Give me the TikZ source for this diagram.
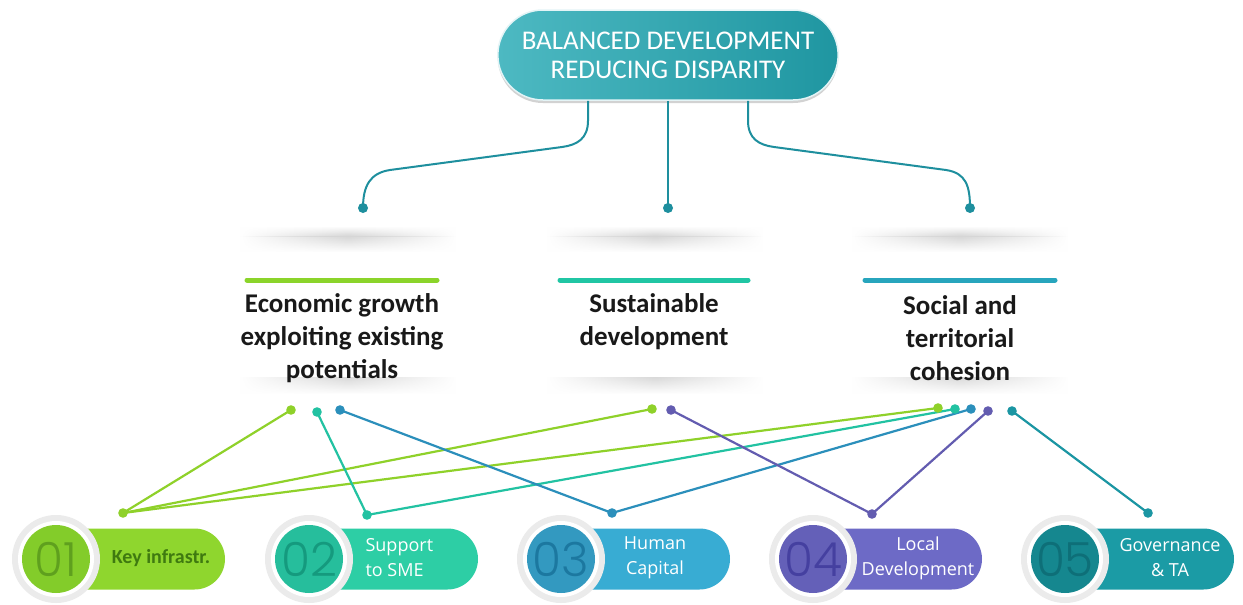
\documentclass[tikz,border=0pt]{standalone}
\usepackage{fontspec}
\setmainfont{Carlito}
\newfontfamily\pillfont{Open Sans}
\newfontfamily\numfont{Poppins Light}
\usetikzlibrary{shapes.misc,fadings,shadows}

% palette
\definecolor{topL}{HTML}{4DB9C2}
\definecolor{topR}{HTML}{1F96A1}
\definecolor{topline}{HTML}{1E8F9E}
\definecolor{barG}{HTML}{8BD42A}
\definecolor{barT}{HTML}{20C6A4}
\definecolor{barB}{HTML}{27A5BD}
\definecolor{lnG}{HTML}{8FD12A}
\definecolor{lnT}{HTML}{22C2A2}
\definecolor{lnB}{HTML}{2B8FBB}
\definecolor{lnP}{HTML}{635CB0}
\definecolor{lnC}{HTML}{1B96A3}
\definecolor{pA}{HTML}{8FD62E}
\definecolor{pB}{HTML}{2DCEA5}
\definecolor{pC}{HTML}{38ACD3}
\definecolor{pD}{HTML}{6D6AC6}
\definecolor{pE}{HTML}{1B9BA5}
\definecolor{cA}{HTML}{83CC2A}
\definecolor{cB}{HTML}{26BE9C}
\definecolor{cC}{HTML}{3399C0}
\definecolor{cD}{HTML}{6460B8}
\definecolor{cE}{HTML}{15878F}
\definecolor{nA}{HTML}{5FA01E}
\definecolor{nB}{HTML}{159A7E}
\definecolor{nC}{HTML}{1C78A0}
\definecolor{nD}{HTML}{4540A0}
\definecolor{nE}{HTML}{0E6F78}
\definecolor{keytext}{HTML}{3F7A10}

\tikzfading[name=hfade, left color=transparent!100, right color=transparent!100, middle color=transparent!0]

\begin{document}
\begin{tikzpicture}[x=1pt,y=-1pt,
  conn/.style={draw=topline, line width=2pt},
  link/.style={draw=#1, line width=2.2pt},
  bar/.style={line width=5pt, line cap=round},
  heading/.style={font=\bfseries\fontsize{27}{33}\selectfont, align=center, text=black!90},
  pilltext/.style={font=\pillfont\fontsize{18}{25}\selectfont, text=white, align=center},
  pill/.style={rounded rectangle, fill=#1, minimum width=168pt, minimum height=61pt, inner sep=0pt},
  ringout/.style={circle, fill=black!8, minimum size=88pt, inner sep=0pt},
  ringin/.style={circle, fill=white, minimum size=76pt, inner sep=0pt},
  numdisc/.style={circle, minimum size=68pt, inner sep=0pt, font=\numfont\fontsize{47}{47}\selectfont},
]
\useasboundingbox (0,0) rectangle (1243,605);
\fill[white] (0,0) rectangle (1243,605);

% soft shadow bands around the three headings
\foreach \cx in {348,655,960}{
  \shade[top color=black!16, bottom color=white, path fading=hfade]
    (\cx-108,236) rectangle (\cx+108,252);
  \shade[top color=white, bottom color=black!16, path fading=hfade]
    (\cx-108,226) rectangle (\cx+108,236);
  \shade[top color=black!15, bottom color=white, path fading=hfade]
    (\cx-108,377) rectangle (\cx+108,394);
}

% title pill
\node[rounded rectangle, minimum width=347pt, minimum height=90pt,
      left color=topL, right color=topR, draw=white!85!topL, line width=1.5pt,
      drop shadow={shadow xshift=0pt, shadow yshift=-3pt, opacity=.35},
      text=white, align=center, font=\fontsize{27}{29}\selectfont] (top) at (668,55)
  {BALANCED DEVELOPMENT\\REDUCING DISPARITY};

% branch end points
\coordinate (dL) at (363,208);
\coordinate (dM) at (668,208);
\coordinate (dR) at (970,208);

\draw[conn] ([xshift=-80pt]top.south) -- ++(0,20)
  .. controls +(0,18) and +(15,-2) .. (562,147) -- (390,170)
  .. controls +(-20,3) and +(0,-22) .. (dL);
\draw[conn] (top.south) -- (dM);
\draw[conn] ([xshift=80pt]top.south) -- ++(0,20)
  .. controls +(0,18) and +(-15,-2) .. (774,147) -- (946,170)
  .. controls +(20,3) and +(0,-22) .. (dR);
\foreach \d in {dL,dM,dR}{\fill[topline] (\d) circle (5pt);}

% headings
\draw[bar, barG] (247,280) -- (437,280);
\draw[bar, barT] (560,280) -- (748,280);
\draw[bar, barB] (865,280) -- (1055,280);
\node[heading] (hE) at (342,338) {Economic growth\\exploiting existing\\potentials};
\node[heading] (hS) at (654,322) {Sustainable\\development};
\node[heading] (hC) at (960,338) {Social and\\territorial\\cohesion};

% link end points
\coordinate (g1) at (291,410);
\coordinate (g2) at (317,412);
\coordinate (g3) at (340,410);
\coordinate (s1) at (652,409);
\coordinate (s2) at (671,410);
\coordinate (c1) at (938,408);
\coordinate (c2) at (955,409);
\coordinate (c3) at (971,409);
\coordinate (c4) at (988,411);
\coordinate (c5) at (1012,411);
\coordinate (b1) at (123,513);
\coordinate (b2) at (367,515);
\coordinate (b3) at (612,513);
\coordinate (b4) at (872,514);
\coordinate (b5) at (1148,513);

% links from the programmes to the priorities
\draw[link=lnG] (b1) -- (g1);
\draw[link=lnG] (b1) -- (s1);
\draw[link=lnG] (b1) -- (c1);
\draw[link=lnT] (b2) -- (g2);
\draw[link=lnT] (b2) -- (c2);
\draw[link=lnB] (b3) -- (g3);
\draw[link=lnB] (b3) -- (c3);
\draw[link=lnP] (b4) -- (s2);
\draw[link=lnP] (b4) -- (c4);
\draw[link=lnC] (b5) -- (c5);

\foreach \p/\c in {g1/lnG,s1/lnG,c1/lnG,b1/lnG,g2/lnT,c2/lnT,b2/lnT,
                   g3/lnB,c3/lnB,b3/lnB,s2/lnP,c4/lnP,b4/lnP,c5/lnC,b5/lnC}{
  \fill[\c] (\p) circle (4.8pt);
}

% programme boxes
\foreach \i/\cx/\pc/\cc/\nc in {1/56/pA/cA/nA, 2/309/pB/cB/nB, 3/561/pC/cC/nC, 4/813/pD/cD/nD, 5/1065/pE/cE/nE}{
  \node[pill=\pc] (pill\i) at (\cx+85,559) {};
  \node[ringout] (ro\i) at (\cx,559) {};
  \node[ringin] (ri\i) at (\cx,559) {};
  \node[numdisc, fill=\cc, text=\nc] (num\i) at (\cx,559) {0\i};
}

\node[font=\bfseries\fontsize{20}{24}\selectfont, text=keytext] (t1) at (161,558) {Key infrastr.};
\node[pilltext, align=left, anchor=west] (t2) at (362,558) {Support\\to SME};
\node[pilltext] (t3) at (655,558) {Human\\Capital};
\node[pilltext] (t4) at (918,558) {Local\\Development};
\node[pilltext] (t5) at (1170,558) {Governance\\\& TA};
\end{tikzpicture}
\end{document}
